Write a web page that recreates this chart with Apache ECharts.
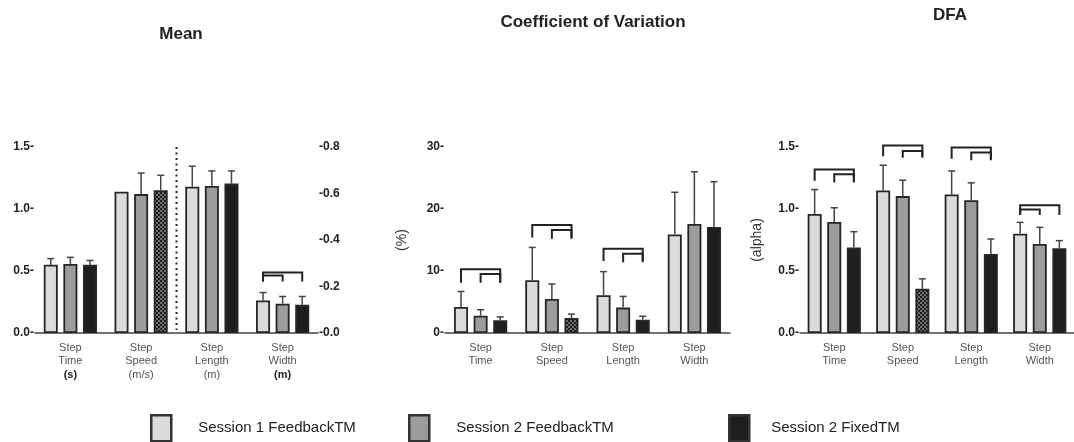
<!DOCTYPE html>
<html>
<head>
<meta charset="utf-8">
<script src="https://cdn.jsdelivr.net/npm/echarts@6/dist/echarts.min.js"></script>
<style>
    html, body { margin: 0; padding: 0; background: #fff; }
    #chartDiv { width: 1074px; height: 442px; }
</style>
</head>
<body>
<div id="chartDiv"></div>
<script>
let seriesNames = ["Session 1 FeedbackTM", "Session 2 FeedbackTM", "Session 2 FixedTM"];

let meanCategories = ["Step\nTime\n{u|(s)}", "Step\nSpeed\n(m/s)", "Step\nLength\n(m)", "Step\nWidth\n{u|(m)}"];
let categories = ["Step\nTime", "Step\nSpeed", "Step\nLength", "Step\nWidth"];

// Mean, left axis (time, speed, length)
let meanS1 = [0.55, 1.14, 1.18, null];
let meanS1Top = [0.6, null, 1.345, null];
let meanS2 = [0.557, 1.12, 1.185, null];
let meanS2Top = [0.61, 1.29, 1.307, null];
let meanFixed = [0.55, 1.152, 1.205, null];
let meanFixedTop = [0.585, 1.272, 1.307, null];
// Mean, right axis (width)
let widthS1 = [null, null, null, 0.14];
let widthS1Top = [null, null, null, 0.174];
let widthS2 = [null, null, null, 0.126];
let widthS2Top = [null, null, null, 0.157];
let widthFixed = [null, null, null, 0.121];
let widthFixedTop = [null, null, null, 0.157];
let meanBrackets = [
    [3, 0, 2, 0.26, 0.221],
    [3, 0, 1, 0.247, 0.221],
];
// dotted divider between speed and length: [from category, to category, axis max]
let meanDivider = [[1, 2, 1.5]];

// Coefficient of variation
let cvS1 = [4.2, 8.5, 6.1, 15.9];
let cvS1Top = [6.7, 13.8, 9.9, 22.7];
let cvS2 = [2.8, 5.5, 4.1, 17.6];
let cvS2Top = [3.75, 7.9, 5.9, 26.0];
let cvFixed = [2.05, 2.4, 2.15, 17.1];
let cvFixedTop = [2.6, 3.05, 2.7, 24.4];
let cvBrackets = [
    [0, 0, 2, 10.3, 8.1],
    [0, 1, 2, 9.5, 8.1],
    [1, 0, 2, 17.4, 15.4],
    [1, 1, 2, 16.6, 15.2],
    [2, 0, 2, 13.6, 11.6],
    [2, 1, 2, 12.8, 11.4],
];

// DFA
let dfaS1 = [0.96, 1.15, 1.117, 0.8];
let dfaS1Top = [1.157, 1.353, 1.307, 0.892];
let dfaS2 = [0.895, 1.104, 1.07, 0.718];
let dfaS2Top = [1.01, 1.232, 1.211, 0.852];
let dfaFixed = [0.69, 0.356, 0.638, 0.683];
let dfaFixedTop = [0.817, 0.437, 0.758, 0.745];
let dfaBrackets = [
    [0, 0, 2, 1.318, 1.227],
    [0, 1, 2, 1.28, 1.214],
    [1, 0, 2, 1.513, 1.425],
    [1, 1, 2, 1.468, 1.414],
    [2, 0, 2, 1.495, 1.406],
    [2, 1, 2, 1.455, 1.393],
    [3, 0, 2, 1.031, 0.951],
    [3, 0, 1, 0.996, 0.951],
];

let barColors = ["#dadbdc", "#9b9c9e", "#1e1e1e"];
let barWidth = 14;
let barStep = 19.6;

// checkered fill for the speed bar of the fixed treadmill
let checkCanvas = document.createElement("canvas");
checkCanvas.width = 4;
checkCanvas.height = 4;
let ctx = checkCanvas.getContext("2d");
ctx.fillStyle = "#707070";
ctx.fillRect(0, 0, 4, 4);
ctx.fillStyle = "#1e1e1e";
ctx.fillRect(0, 0, 2, 2);
ctx.fillRect(2, 2, 2, 2);
let checker = { image: checkCanvas, repeat: "repeat" };

let chart = echarts.init(document.getElementById("chartDiv"));

function barSeries(idx, axis, values, checkIndex) {
    return {
        name: seriesNames[idx],
        type: "bar",
        xAxisIndex: axis,
        yAxisIndex: axis,
        barWidth: barWidth,
        barGap: "40%",
        itemStyle: {
            color: barColors[idx],
            borderColor: "#262626",
            borderWidth: 1.8,
        },
        data: values.map((v, i) => {
            if (i === checkIndex && v !== null) {
                return { value: v, itemStyle: { color: checker } };
            }
            return v;
        }),
        z: 2,
    };
}

function errorSeries(idx, axis, values, tops) {
    let data = [];
    tops.forEach((t, i) => {
        if (t !== null) data.push([i, values[i], t]);
    });
    return {
        type: "custom",
        xAxisIndex: axis,
        yAxisIndex: axis,
        z: 3,
        renderItem: function (params, api) {
            let base = api.coord([api.value(0), api.value(1)]);
            let top = api.coord([api.value(0), api.value(2)]);
            let x = base[0] + (idx - 1) * barStep;
            let style = { stroke: "#444", lineWidth: 1.5 };
            return {
                type: "group",
                children: [
                    { type: "line", shape: { x1: x, y1: base[1], x2: x, y2: top[1] }, style: style },
                    { type: "line", shape: { x1: x - 3.5, y1: top[1], x2: x + 3.5, y2: top[1] }, style: style },
                ],
            };
        },
        data: data,
    };
}

function bracketSeries(axis, brackets) {
    return {
        type: "custom",
        xAxisIndex: axis,
        yAxisIndex: axis,
        z: 4,
        renderItem: function (params, api) {
            let top = api.coord([api.value(0), api.value(3)]);
            let bottom = api.coord([api.value(0), api.value(4)]);
            let x1 = top[0] + (api.value(1) - 1) * barStep;
            let x2 = top[0] + (api.value(2) - 1) * barStep;
            return {
                type: "polyline",
                shape: {
                    points: [[x1, bottom[1]], [x1, top[1]], [x2, top[1]], [x2, bottom[1]]],
                },
                style: { stroke: "#222", lineWidth: 2, fill: null },
            };
        },
        data: brackets,
    };
}

function dividerSeries(axis, divider) {
    return {
        type: "custom",
        xAxisIndex: axis,
        yAxisIndex: axis,
        encode: { x: [0, 1], y: 2 },
        z: 1,
        renderItem: function (params, api) {
            let a = api.coord([api.value(0), api.value(2)]);
            let b = api.coord([api.value(1), 0]);
            let x = (a[0] + b[0]) / 2;
            return {
                type: "line",
                shape: { x1: x, y1: a[1], x2: x, y2: b[1] - 3 },
                style: { stroke: "#222", lineWidth: 2, lineDash: [2, 3.5] },
            };
        },
        data: divider,
    };
}

let tickLabel = {
    fontFamily: "Liberation Sans",
    fontWeight: "bold",
    fontSize: 12,
    color: "#222",
    margin: 1,
};

function valueAxis(axis, max, interval, fmt, extra) {
    return Object.assign({
        type: "value",
        gridIndex: axis,
        min: 0,
        max: max,
        interval: interval,
        splitLine: { show: false },
        axisLine: { show: false },
        axisTick: { show: false },
        axisLabel: Object.assign({ formatter: fmt }, tickLabel),
        nameLocation: "middle",
        nameRotate: 90,
        nameTextStyle: { fontFamily: "Liberation Sans", fontSize: 14, color: "#333" },
    }, extra || {});
}

function categoryAxis(axis, data, extra) {
    return Object.assign({
        type: "category",
        gridIndex: axis,
        data: data,
        axisLine: { lineStyle: { color: "#444", width: 1.5 } },
        axisTick: { show: false },
        axisLabel: {
            interval: 0,
            fontFamily: "Liberation Sans",
            fontSize: 11,
            color: "#555",
            lineHeight: 13.5,
            margin: 8,
            rich: { u: { fontWeight: "bold", color: "#222", fontSize: 11 } },
        },
    }, extra || {});
}

let titleStyle = { fontFamily: "Liberation Sans", fontWeight: "bold", fontSize: 17, color: "#222" };
let legendText = { fontFamily: "Liberation Sans", fontSize: 15, color: "#222", padding: [0, 0, 0, 22] };

let options = {
    animation: false,
    backgroundColor: "#fff",
    title: [
        { text: "Mean", left: 176, top: 21, textAlign: "center", textStyle: titleStyle },
        { text: "Coefficient of Variation", left: 588, top: 9, textAlign: "center", textStyle: titleStyle },
        { text: "DFA", left: 945, top: 2, textAlign: "center", textStyle: titleStyle },
    ],
    legend: seriesNames.map((name, i) => ({
        data: [name],
        left: [150, 408, 728][i],
        top: 414,
        padding: 0,
        icon: "rect",
        itemWidth: 20,
        itemHeight: 26,
        selectedMode: false,
        itemStyle: { borderColor: "#333", borderWidth: 2.5 },
        textStyle: i === 2 ? Object.assign({}, legendText, { padding: [0, 0, 0, 17] }) : legendText,
    })),
    grid: [
        { left: 35, top: 147, width: 283, height: 186 },
        { left: 35, top: 147, width: 283, height: 186 },
        { left: 445, top: 147, width: 285, height: 186 },
        { left: 800, top: 147, width: 285, height: 186 },
    ],
    xAxis: [
        categoryAxis(0, meanCategories),
        categoryAxis(1, meanCategories, { show: false }),
        categoryAxis(2, categories),
        categoryAxis(3, categories),
    ],
    yAxis: [
        valueAxis(0, 1.5, 0.5, (v) => v.toFixed(1) + "-"),
        valueAxis(1, 0.8, 0.2, (v) => "-" + v.toFixed(1), { position: "right" }),
        valueAxis(2, 30, 10, (v) => v + "-", { name: "(%)", nameGap: 36 }),
        valueAxis(3, 1.5, 0.5, (v) => v.toFixed(1) + "-", { name: "(alpha)", nameGap: 36 }),
    ],
    series: [
        dividerSeries(0, meanDivider),
        barSeries(0, 0, meanS1, -1),
        barSeries(1, 0, meanS2, -1),
        barSeries(2, 0, meanFixed, 1),
        errorSeries(0, 0, meanS1, meanS1Top),
        errorSeries(1, 0, meanS2, meanS2Top),
        errorSeries(2, 0, meanFixed, meanFixedTop),

        barSeries(0, 1, widthS1, -1),
        barSeries(1, 1, widthS2, -1),
        barSeries(2, 1, widthFixed, -1),
        errorSeries(0, 1, widthS1, widthS1Top),
        errorSeries(1, 1, widthS2, widthS2Top),
        errorSeries(2, 1, widthFixed, widthFixedTop),
        bracketSeries(1, meanBrackets),

        barSeries(0, 2, cvS1, -1),
        barSeries(1, 2, cvS2, -1),
        barSeries(2, 2, cvFixed, 1),
        errorSeries(0, 2, cvS1, cvS1Top),
        errorSeries(1, 2, cvS2, cvS2Top),
        errorSeries(2, 2, cvFixed, cvFixedTop),
        bracketSeries(2, cvBrackets),

        barSeries(0, 3, dfaS1, -1),
        barSeries(1, 3, dfaS2, -1),
        barSeries(2, 3, dfaFixed, 1),
        errorSeries(0, 3, dfaS1, dfaS1Top),
        errorSeries(1, 3, dfaS2, dfaS2Top),
        errorSeries(2, 3, dfaFixed, dfaFixedTop),
        bracketSeries(3, dfaBrackets),
    ],
};

chart.setOption(options);
</script>
</body>
</html>
